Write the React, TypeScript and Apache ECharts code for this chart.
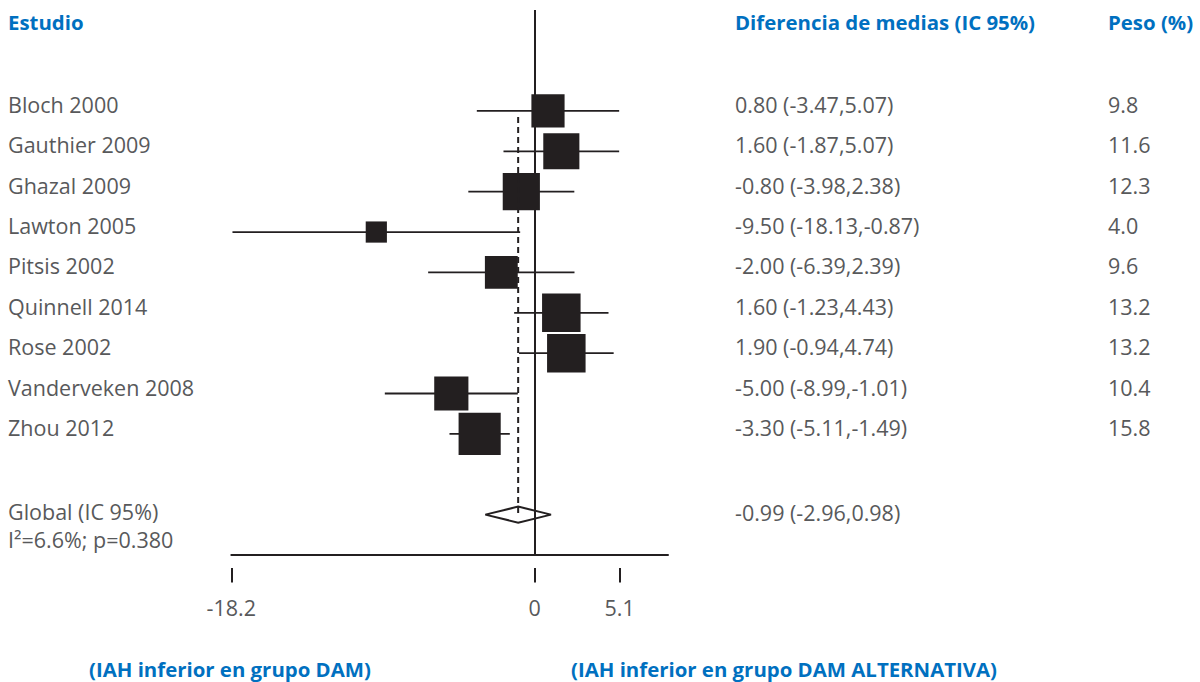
import React, { useEffect, useRef } from "react";
import * as echarts from "echarts";

// ---------- data ----------
const studies = [
  "Bloch 2000",
  "Gauthier 2009",
  "Ghazal 2009",
  "Lawton 2005",
  "Pitsis 2002",
  "Quinnell 2014",
  "Rose 2002",
  "Vanderveken 2008",
  "Zhou 2012",
];
const estimates = [0.8, 1.6, -0.8, -9.5, -2.0, 1.6, 1.9, -5.0, -3.3];
const lowers = [-3.47, -1.87, -3.98, -18.13, -6.39, -1.23, -0.94, -8.99, -5.11];
const uppers = [5.07, 5.07, 2.38, -0.87, 2.39, 4.43, 4.74, -1.01, -1.49];
const weights = [9.8, 11.6, 12.3, 4.0, 9.6, 13.2, 13.2, 10.4, 15.8];

const pooledLabel = "Global (IC 95%)";
const heterogeneityLabel = "I\u00b2=6.6%; p=0.380";
const pooledEstimate = [-0.99];
const pooledLower = [-2.96];
const pooledUpper = [0.98];
const pooledRow = [10];

const xTicks = [-18.2, 0, 5.1];
const xMin = -18.2;
const xMax = 8;

const headerStudy = "Estudio";
const headerEffect = "Diferencia de medias (IC 95%)";
const headerWeight = "Peso (%)";
const footLeft = "(IAH inferior en grupo DAM)";
const footRight = "(IAH inferior en grupo DAM ALTERNATIVA)";

// ---------- styles ----------
const FONT = '"Open Sans", "Noto Sans", sans-serif';
const GRAY = "#58595b";
const BLUE = "#0070c0";
const INK = "#231f20";
const BODY_SIZE = 21.5;
const HEAD_SIZE = 20.4;
const COL_STUDY = 8;
const COL_EFFECT = 735;
const COL_WEIGHT = 1108;

const fmt2 = (v: number) => v.toFixed(2);
const ciText = (e: number, l: number, h: number) =>
  `${fmt2(e)} (${fmt2(l)},${fmt2(h)})`;

const bodyText = (text: string, x: number, y: number) => ({
  type: "text",
  x,
  y,
  style: {
    text,
    fill: GRAY,
    fontSize: BODY_SIZE,
    fontFamily: FONT,
    align: "left",
    verticalAlign: "middle",
  },
});

const headText = (text: string, x: number, y: number) => ({
  type: "text",
  x,
  y,
  style: {
    text,
    fill: BLUE,
    fontSize: HEAD_SIZE,
    fontWeight: "bold",
    fontFamily: FONT,
    align: "left",
    verticalAlign: "middle",
  },
});

export default function App() {
  const ref = useRef<HTMLDivElement>(null);

  useEffect(() => {
    if (!ref.current) return;
    const chart = echarts.init(ref.current, null, { renderer: "svg" });

    const studyData = studies.map((s, i) => [
      estimates[i],
      lowers[i],
      uppers[i],
      i,
      weights[i],
    ]);
    const pooledData = pooledEstimate.map((e, i) => [
      e,
      pooledLower[i],
      pooledUpper[i],
      pooledRow[i],
    ]);

    const option: any = {
      animation: false,
      grid: {
        left: 231.3,
        right: 532,
        top: 10,
        bottom: 127,
        outerBoundsMode: "none",
      },
      xAxis: [
        {
          type: "value",
          min: xMin,
          max: xMax,
          position: "bottom",
          axisLine: { show: true, onZero: false, lineStyle: { color: INK, width: 2 } },
          axisTick: { show: false },
          axisLabel: { show: false },
          splitLine: { show: false },
        },
        {
          type: "value",
          min: xMin,
          max: xMax,
          position: "bottom",
          offset: 13,
          axisLine: { show: false, onZero: false },
          axisTick: {
            show: true,
            length: 14.5,
            customValues: xTicks,
            lineStyle: { color: INK, width: 2 },
          },
          axisLabel: {
            show: true,
            customValues: xTicks,
            margin: 28,
            color: GRAY,
            fontSize: BODY_SIZE,
            fontFamily: FONT,
            formatter: (v: number) => String(v),
          },
          splitLine: { show: false },
        },
      ],
      yAxis: {
        type: "value",
        min: -2.5,
        max: 11,
        inverse: true,
        show: false,
      },
      graphic: [
        headText(headerStudy, COL_STUDY, 21.5),
        headText(headerEffect, COL_EFFECT, 21.5),
        headText(headerWeight, COL_WEIGHT, 21.5),
        headText(footLeft, 89, 669),
        headText(footRight, 571, 669),
      ],
      series: [
        {
          type: "custom",
          xAxisIndex: 0,
          clip: false,
          data: studyData,
          encode: { x: [0, 1, 2], y: 3 },
          renderItem: (params: any, api: any) => {
            const idx = params.dataIndex;
            const row = api.value(3);
            const c = api.coord([api.value(0), row]);
            const l = api.coord([api.value(1), row]);
            const h = api.coord([api.value(2), row]);
            const size = 10.6 * Math.sqrt(api.value(4));
            const ty = c[1] - 6.5;
            return {
              type: "group",
              children: [
                {
                  type: "line",
                  shape: { x1: l[0], y1: l[1], x2: h[0], y2: h[1] },
                  style: { stroke: INK, lineWidth: 1.8 },
                },
                {
                  type: "rect",
                  shape: { x: c[0] - size / 2, y: c[1] - size / 2, width: size, height: size },
                  style: { fill: INK },
                },
                bodyText(studies[idx], COL_STUDY, ty),
                bodyText(
                  ciText(estimates[idx], lowers[idx], uppers[idx]),
                  COL_EFFECT,
                  ty
                ),
                bodyText(weights[idx].toFixed(1), COL_WEIGHT, ty),
              ],
            };
          },
          markLine: {
            silent: true,
            symbol: "none",
            label: { show: false },
            lineStyle: { color: INK, width: 2, type: "solid" },
            data: [{ xAxis: 0 }],
          },
        },
        {
          type: "custom",
          xAxisIndex: 0,
          clip: false,
          data: pooledData,
          encode: { x: [0, 1, 2], y: 3 },
          renderItem: (params: any, api: any) => {
            const idx = params.dataIndex;
            const row = api.value(3);
            const c = api.coord([api.value(0), row]);
            const l = api.coord([api.value(1), row]);
            const h = api.coord([api.value(2), row]);
            const top = api.coord([api.value(0), 0]);
            const half = 8;
            const ty = c[1] - 3;
            return {
              type: "group",
              children: [
                {
                  type: "line",
                  shape: { x1: c[0], y1: top[1] + 6, x2: c[0], y2: c[1] },
                  style: { stroke: INK, lineWidth: 2, lineDash: [6, 4] },
                },
                {
                  type: "polygon",
                  shape: {
                    points: [
                      [l[0], c[1]],
                      [c[0], c[1] - half],
                      [h[0], c[1]],
                      [c[0], c[1] + half],
                    ],
                  },
                  style: { fill: "none", stroke: INK, lineWidth: 2 },
                },
                bodyText(pooledLabel, COL_STUDY, ty),
                bodyText(heterogeneityLabel, COL_STUDY, ty + 28),
                bodyText(
                  ciText(pooledEstimate[idx], pooledLower[idx], pooledUpper[idx]),
                  COL_EFFECT,
                  ty + 1
                ),
              ],
            };
          },
        },
      ],
    };

    chart.setOption(option);
    return () => chart.dispose();
  }, []);

  return (
    <div
      ref={ref}
      style={{
        position: "fixed",
        left: 0,
        top: 0,
        width: 1200,
        height: 682,
        background: "#ffffff",
      }}
    />
  );
}
